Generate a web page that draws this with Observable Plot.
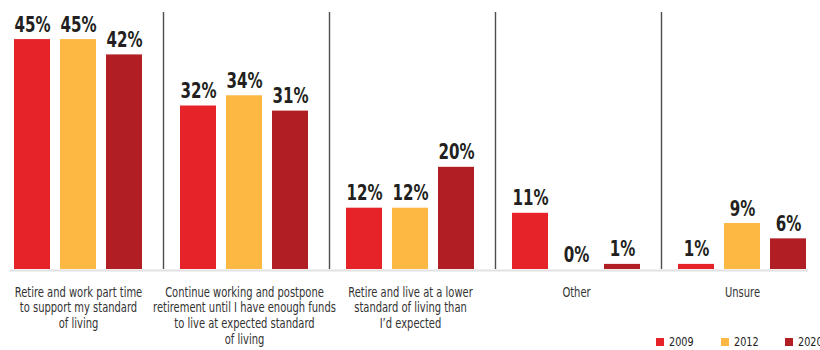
<!DOCTYPE html>
<html>
<head>
<meta charset="utf-8">
<script src="https://cdn.jsdelivr.net/npm/d3@7"></script>
<script src="https://cdn.jsdelivr.net/npm/@observablehq/plot@0.6"></script>
<style>
  body { margin: 0; background: #fff; }
  #wrap { position: relative; width: 820px; height: 350px; overflow: hidden; background: #fff; }
  .legend { position: absolute; left: 656px; top: 334px; display: flex; font-family: "DejaVu Sans Condensed", "DejaVu Sans", sans-serif; font-size: 12.5px; color: #222; }
  .legend .item { display: flex; align-items: center; width: 64.7px; white-space: nowrap; }
  .legend .sw { width: 8px; height: 8px; margin-right: 5px; flex: none; }
  .legend .lab { display: inline-block; transform: scaleX(0.86); transform-origin: left center; }
</style>
</head>
<body>
<div id="wrap"></div>
<script>
const categories = [
  "Retire and work part time",
  "Continue working and postpone",
  "Retire and live at a lower",
  "Other",
  "Unsure"
];
const categoryLabels = [
  "Retire and work part time\nto support my standard\nof living",
  "Continue working and postpone\nretirement until I have enough funds\nto live at expected standard\nof living",
  "Retire and live at a lower\nstandard of living than\nI\u2019d expected",
  "Other",
  "Unsure"
];
const years = ["2009", "2012", "2020"];
const values2009 = [45, 32, 12, 11, 1];
const values2012 = [45, 34, 12, 0, 9];
const values2020 = [42, 31, 20, 1, 6];
const colors = ["#e52328", "#fdb843", "#b11f24"];

const series = [values2009, values2012, values2020];
const rows = categories.flatMap((c, i) => years.map((y, j) => ({category: c, year: y, value: series[j][i]})));

const font = "'DejaVu Sans Condensed', 'DejaVu Sans', sans-serif";

const chart = Plot.plot({
  width: 820,
  height: 350,
  marginTop: 12,
  marginBottom: 81,
  marginLeft: 0,
  marginRight: 0,
  fx: {domain: categories, range: [-6.5, 827], padding: 0, axis: null},
  x: {domain: years, paddingInner: 0.212, paddingOuter: 0.408, axis: null},
  y: {domain: [0, 50.3], axis: null},
  color: {domain: years, range: colors},
  style: {fontFamily: font, background: "white"},
  marks: [
    Plot.ruleX(categories.slice(0, 4), {fx: d => d, x: () => years[2], dx: 39, stroke: "#4d4d4d", strokeWidth: 1.4}),
    Plot.ruleY([categories[0]], {fx: d => d, y: () => 0, dy: 1, stroke: "#e2e2e2", strokeWidth: 2, insetLeft: 14.5}),
    Plot.ruleY(categories.slice(1, 4), {fx: d => d, y: () => 0, dy: 1, stroke: "#e2e2e2", strokeWidth: 2}),
    Plot.ruleY([categories[4]], {fx: d => d, y: () => 0, dy: 1, stroke: "#e2e2e2", strokeWidth: 2, insetRight: 17}),
    Plot.barY(rows, {fx: "category", x: "year", y: "value", fill: "year"}),
    Plot.text(rows, {fx: "category", x: "year", y: "value", text: d => d.value + "%", lineAnchor: "bottom", dy: -8, fontSize: 21.5, fontWeight: "bold", fill: "#231f20", className: "vlab"}),
    Plot.text(categories, {fx: d => d, y: () => 0, text: (d, i) => categoryLabels[i], lineAnchor: "top", dy: 16, fontSize: 13.5, lineHeight: 1.16, fill: "#333", className: "clab"})
  ]
});

const wrap = document.getElementById("wrap");
wrap.appendChild(chart);

// condense the text glyphs horizontally around their anchor points
function condense(sel, k) {
  chart.querySelectorAll(sel).forEach(t => {
    const tr = t.getAttribute("transform") || "";
    t.setAttribute("transform", tr + ` scale(${k},1)`);
  });
}
condense(".vlab text", 0.78);
condense(".clab text", 0.82);

const legend = document.createElement("div");
legend.className = "legend";
years.forEach((y, j) => {
  const item = document.createElement("div");
  item.className = "item";
  const sw = document.createElement("span");
  sw.className = "sw";
  sw.style.background = colors[j];
  const t = document.createElement("span");
  t.className = "lab";
  t.textContent = y;
  item.appendChild(sw);
  item.appendChild(t);
  legend.appendChild(item);
});
wrap.appendChild(legend);
</script>
</body>
</html>
